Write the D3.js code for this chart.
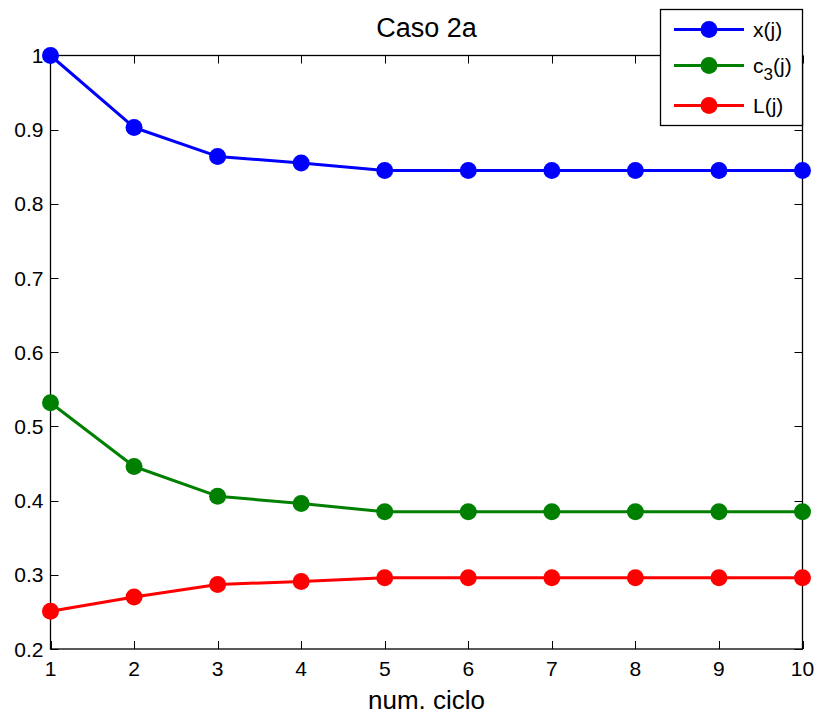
<!DOCTYPE html>
<html>
<head>
<meta charset="utf-8">
<script src="https://cdn.jsdelivr.net/npm/d3@7"></script>
<style>
  html, body { margin: 0; padding: 0; background: #fff; }
  svg { display: block; font-family: "Liberation Sans", Arial, sans-serif; }
</style>
</head>
<body>
<svg id="chart" width="818" height="715"></svg>
<script>
// Iteration cycles and the three quantities tracked per cycle
const cycles = [1, 2, 3, 4, 5, 6, 7, 8, 9, 10];
const xValues  = [1.000, 0.903, 0.864, 0.855, 0.845, 0.845, 0.845, 0.845, 0.845, 0.845];
const c3Values = [0.532, 0.446, 0.406, 0.396, 0.385, 0.385, 0.385, 0.385, 0.385, 0.385];
const lValues  = [0.251, 0.270, 0.287, 0.291, 0.296, 0.296, 0.296, 0.296, 0.296, 0.296];
const yTicks = [0.2, 0.3, 0.4, 0.5, 0.6, 0.7, 0.8, 0.9, 1];
const seriesNames = ["x", "c3", "L"];
const seriesColors = ["#0000ff", "#008000", "#ff0000"];

const svg = d3.select("#chart");
const plotLeft = 50.5, plotRight = 802.5, plotTop = 55.5, plotBottom = 649;

const x = d3.scaleLinear().domain([1, 10]).range([plotLeft, plotRight]);
const y = d3.scaleLinear().domain([0.2, 1]).range([plotBottom, plotTop]);

const tickLen = 8;
const fmt = v => (v === 1 ? "1" : d3.format(".1f")(v));

// Axes box with inward ticks on all four sides
const axisG = svg.append("g").attr("font-size", 21).attr("fill", "#000");
axisG.append("rect")
  .attr("x", plotLeft).attr("y", plotTop)
  .attr("width", plotRight - plotLeft).attr("height", plotBottom - plotTop)
  .attr("fill", "none").attr("stroke", "#000").attr("stroke-width", 1.3);

cycles.forEach(c => {
  const px = Math.round(x(c)) + 0.5;
  axisG.append("line").attr("x1", px).attr("x2", px).attr("y1", plotBottom).attr("y2", plotBottom - tickLen)
    .attr("stroke", "#000").attr("stroke-width", 1);
  axisG.append("line").attr("x1", px).attr("x2", px).attr("y1", plotTop).attr("y2", plotTop + tickLen)
    .attr("stroke", "#000").attr("stroke-width", 1);
  axisG.append("text").attr("x", x(c)).attr("y", plotBottom + 27)
    .attr("text-anchor", "middle").text(c);
});

yTicks.forEach(v => {
  const py = Math.round(y(v)) + 0.5;
  axisG.append("line").attr("x1", plotLeft).attr("x2", plotLeft + tickLen).attr("y1", py).attr("y2", py)
    .attr("stroke", "#000").attr("stroke-width", 1);
  axisG.append("line").attr("x1", plotRight).attr("x2", plotRight - tickLen).attr("y1", py).attr("y2", py)
    .attr("stroke", "#000").attr("stroke-width", 1);
  axisG.append("text").attr("x", plotLeft - 7).attr("y", y(v) + 7.5)
    .attr("text-anchor", "end").text(fmt(v));
});

// Title and x-axis label
svg.append("text").attr("x", (plotLeft + plotRight) / 2).attr("y", 37)
  .attr("text-anchor", "middle").attr("font-size", 27).text("Caso 2a");
svg.append("text").attr("x", (plotLeft + plotRight) / 2).attr("y", 709)
  .attr("text-anchor", "middle").attr("font-size", 26).text("num. ciclo");

// Series lines with circular markers
const line = d3.line().x((d, i) => x(cycles[i])).y(d => y(d));
[xValues, c3Values, lValues].forEach((vals, k) => {
  const g = svg.append("g");
  g.append("path").datum(vals).attr("d", line)
    .attr("fill", "none").attr("stroke", seriesColors[k]).attr("stroke-width", 3)
    .attr("stroke-linejoin", "round");
  g.selectAll("circle").data(vals).join("circle")
    .attr("cx", (d, i) => x(cycles[i])).attr("cy", d => y(d)).attr("r", 8.5)
    .attr("fill", seriesColors[k]);
});

// Legend
const lg = svg.append("g");
lg.append("rect").attr("x", 660.5).attr("y", 9.5).attr("width", 142).attr("height", 116)
  .attr("fill", "#fff").attr("stroke", "#000").attr("stroke-width", 1.3);
const rowY = [29.5, 65.5, 105.5];
seriesNames.forEach((name, k) => {
  lg.append("line").attr("x1", 674).attr("x2", 744).attr("y1", rowY[k]).attr("y2", rowY[k])
    .attr("stroke", seriesColors[k]).attr("stroke-width", 3);
  lg.append("circle").attr("cx", 709).attr("cy", rowY[k]).attr("r", 8.5).attr("fill", seriesColors[k]);
  const t = lg.append("text").attr("x", 753).attr("y", rowY[k] + 7).attr("font-size", 21);
  if (name === "c3") {
    t.append("tspan").text("c");
    t.append("tspan").attr("dy", 7).attr("font-size", 17).text("3");
    t.append("tspan").attr("dy", -7).text("(j)");
  } else {
    t.text(name + "(j)");
  }
});
</script>
</body>
</html>
